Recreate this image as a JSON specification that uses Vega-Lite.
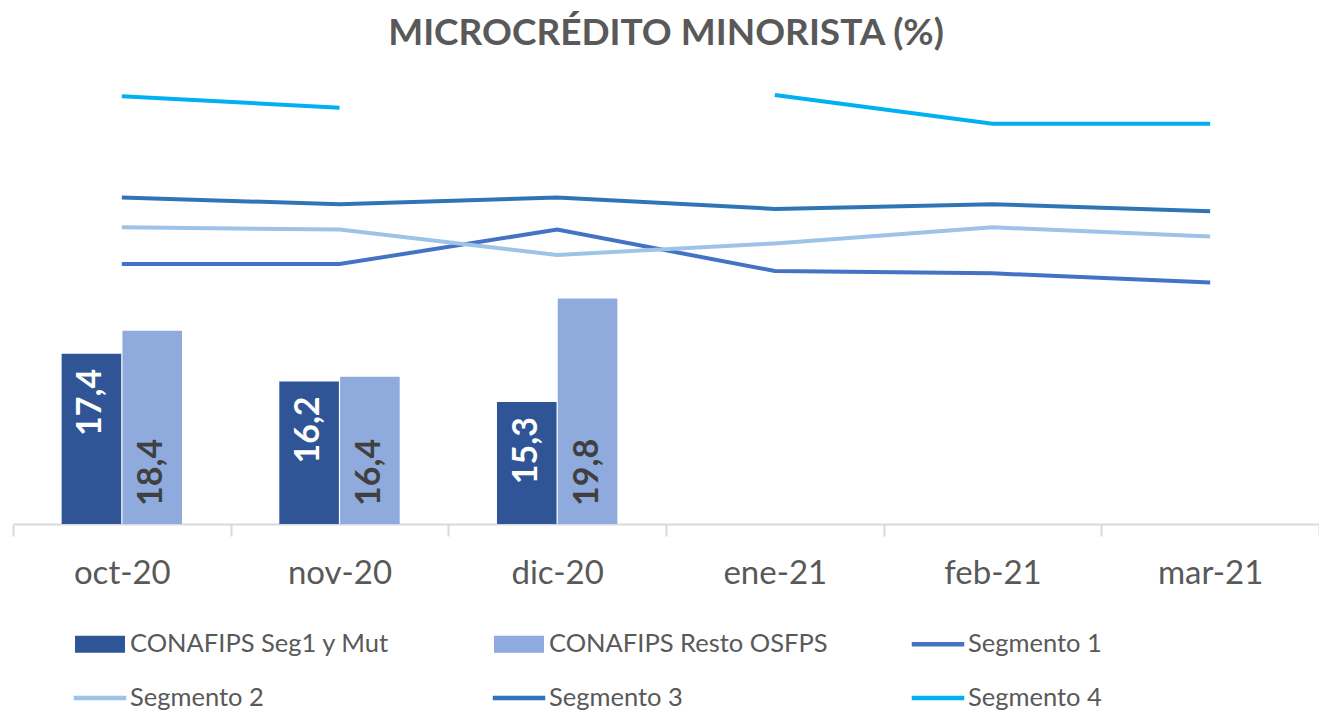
{
  "$schema": "https://vega.github.io/schema/vega-lite/v6.json",
  "width": 1306,
  "height": 460,
  "autosize": "none",
  "padding": {"left": 13, "top": 64, "right": 0, "bottom": 188},
  "background": "white",
  "config": {"view": {"stroke": null}, "font": "Lato"},
  "title": {"text": "MICROCRÉDITO MINORISTA (%)", "fontSize": 37, "fontWeight": "bold", "color": "#595959", "font": "Lato", "anchor": "middle", "offset": 11},
  "datasets": {
    "bars": [
      {"mes": "oct-20", "serie": "CONAFIPS Seg1 y Mut", "v": 17.4},
      {"mes": "oct-20", "serie": "CONAFIPS Resto OSFPS", "v": 18.4},
      {"mes": "nov-20", "serie": "CONAFIPS Seg1 y Mut", "v": 16.2},
      {"mes": "nov-20", "serie": "CONAFIPS Resto OSFPS", "v": 16.4},
      {"mes": "dic-20", "serie": "CONAFIPS Seg1 y Mut", "v": 15.3},
      {"mes": "dic-20", "serie": "CONAFIPS Resto OSFPS", "v": 19.8},
      {"mes": "ene-21", "serie": "CONAFIPS Seg1 y Mut", "v": 0},
      {"mes": "ene-21", "serie": "CONAFIPS Resto OSFPS", "v": 0},
      {"mes": "feb-21", "serie": "CONAFIPS Seg1 y Mut", "v": 0},
      {"mes": "feb-21", "serie": "CONAFIPS Resto OSFPS", "v": 0},
      {"mes": "mar-21", "serie": "CONAFIPS Seg1 y Mut", "v": 0},
      {"mes": "mar-21", "serie": "CONAFIPS Resto OSFPS", "v": 0}
    ],
    "lines": [
      {"mes": "oct-20", "serie": "Segmento 1", "v": 21.3},
      {"mes": "nov-20", "serie": "Segmento 1", "v": 21.3},
      {"mes": "dic-20", "serie": "Segmento 1", "v": 22.8},
      {"mes": "ene-21", "serie": "Segmento 1", "v": 21.0},
      {"mes": "feb-21", "serie": "Segmento 1", "v": 20.9},
      {"mes": "mar-21", "serie": "Segmento 1", "v": 20.5},
      {"mes": "oct-20", "serie": "Segmento 2", "v": 22.9},
      {"mes": "nov-20", "serie": "Segmento 2", "v": 22.8},
      {"mes": "dic-20", "serie": "Segmento 2", "v": 21.7},
      {"mes": "ene-21", "serie": "Segmento 2", "v": 22.2},
      {"mes": "feb-21", "serie": "Segmento 2", "v": 22.9},
      {"mes": "mar-21", "serie": "Segmento 2", "v": 22.5},
      {"mes": "oct-20", "serie": "Segmento 3", "v": 24.2},
      {"mes": "nov-20", "serie": "Segmento 3", "v": 23.9},
      {"mes": "dic-20", "serie": "Segmento 3", "v": 24.2},
      {"mes": "ene-21", "serie": "Segmento 3", "v": 23.7},
      {"mes": "feb-21", "serie": "Segmento 3", "v": 23.9},
      {"mes": "mar-21", "serie": "Segmento 3", "v": 23.6},
      {"mes": "oct-20", "serie": "Segmento 4", "v": 28.6},
      {"mes": "nov-20", "serie": "Segmento 4", "v": 28.1},
      {"mes": "dic-20", "serie": "Segmento 4", "v": null},
      {"mes": "ene-21", "serie": "Segmento 4", "v": 28.65},
      {"mes": "feb-21", "serie": "Segmento 4", "v": 27.4},
      {"mes": "mar-21", "serie": "Segmento 4", "v": 27.4}
    ]
  },
  "encoding": {
    "x": {
      "field": "mes", "type": "nominal",
      "sort": ["oct-20", "nov-20", "dic-20", "ene-21", "feb-21", "mar-21"],
      "scale": {"paddingInner": 0, "paddingOuter": 0},
      "axis": {"title": null, "labelAngle": 0, "labelFontSize": 33, "labelColor": "#595959", "labelFont": "Lato", "domainColor": "#D9D9D9", "domainWidth": 2, "tickColor": "#D9D9D9", "tickWidth": 2, "tickSize": 12, "tickBand": "extent", "labelPadding": 21}
    }
  },
  "layer": [
    {
      "data": {"name": "bars"},
      "mark": {"type": "bar"},
      "encoding": {
        "xOffset": {"field": "serie", "type": "nominal", "sort": ["CONAFIPS Seg1 y Mut", "CONAFIPS Resto OSFPS"], "scale": {"paddingInner": 0.02, "paddingOuter": 0.8}},
        "y": {"field": "v", "type": "quantitative", "scale": {"domain": [10, 30], "zero": false, "clamp": true, "nice": false}, "axis": null},
        "y2": {"datum": 10},
        "color": {
          "field": "serie", "type": "nominal",
          "scale": {
            "domain": ["CONAFIPS Seg1 y Mut", "CONAFIPS Resto OSFPS", "Segmento 1", "Segmento 2", "Segmento 3", "Segmento 4"],
            "range": ["#2F5597", "#8FAADC", "#4472C4", "#9DC3E6", "#2E75B6", "#00B0F0"]
          },
          "legend": {
            "orient": "none", "legendX": 62, "legendY": 555, "direction": "horizontal", "columns": 3, "gridAlign": "all",
            "columnPadding": 83, "rowPadding": 15, "labelFontSize": 25.5, "labelColor": "#595959", "labelFont": "Lato",
            "symbolSize": 2500, "labelOffset": 5, "title": null, "labelLimit": 400,
            "encode": {
              "symbols": {
                "update": {
                  "shape": {"signal": "indexof(['CONAFIPS Seg1 y Mut','CONAFIPS Resto OSFPS'], datum.value) >= 0 ? 'M-1,-0.34H1V0.34H-1Z' : 'M-1.05,-0.09H1.05V0.09H-1.05Z'"},
                  "fill": {"scale": "color", "field": "value"},
                  "stroke": {"value": "transparent"},
                  "strokeWidth": {"value": 0},
                  "opacity": {"value": 1}
                }
              }
            }
          }
        }
      }
    },
    {
      "data": {"name": "bars"},
      "transform": [
        {"filter": "datum.serie === 'CONAFIPS Seg1 y Mut' && datum.v > 0"},
        {"calculate": "replace(format(datum.v, '.1f'), '.', ',')", "as": "lab"}
      ],
      "mark": {"type": "text", "angle": 270, "align": "right", "baseline": "middle", "dx": -15, "fontSize": 34, "fontWeight": "bold", "font": "Lato", "color": "white"},
      "encoding": {
        "xOffset": {"field": "serie", "type": "nominal", "sort": ["CONAFIPS Seg1 y Mut", "CONAFIPS Resto OSFPS"]},
        "y": {"field": "v", "type": "quantitative"},
        "text": {"field": "lab"}
      }
    },
    {
      "data": {"name": "bars"},
      "transform": [
        {"filter": "datum.serie === 'CONAFIPS Resto OSFPS' && datum.v > 0"},
        {"calculate": "replace(format(datum.v, '.1f'), '.', ',')", "as": "lab"}
      ],
      "mark": {"type": "text", "angle": 270, "align": "left", "baseline": "middle", "dx": 18, "fontSize": 34, "fontWeight": "bold", "font": "Lato", "color": "#404040"},
      "encoding": {
        "xOffset": {"field": "serie", "type": "nominal", "sort": ["CONAFIPS Seg1 y Mut", "CONAFIPS Resto OSFPS"]},
        "y": {"datum": 10, "type": "quantitative"},
        "text": {"field": "lab"}
      }
    },
    {
      "data": {"name": "lines"},
      "mark": {"type": "line", "strokeWidth": 4, "invalid": "break-paths-filter-domains"},
      "encoding": {
        "y": {"field": "v", "type": "quantitative"},
        "color": {"field": "serie", "type": "nominal"}
      }
    }
  ]
}
